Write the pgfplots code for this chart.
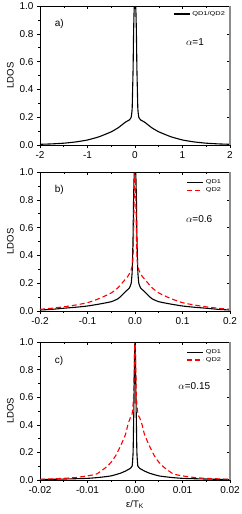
\documentclass[border=0pt]{standalone}
\usepackage{fontspec}
\setmainfont{Liberation Sans}
\newfontfamily\legfont[FakeStretch=1.35]{Liberation Sans}
\usepackage{pgfplots}
\pgfplotsset{compat=1.18}
\begin{document}
\begin{tikzpicture}
\path[use as bounding box] (0pt,0pt) rectangle (241pt,-514pt);
\pgfplotsset{
  base/.style={
    scale only axis, width=190pt, height=139pt, anchor=north west,
    ymin=0, ymax=1, ytick={0,0.2,...,1.0},
    minor x tick num=1, minor y tick num=1,
    scaled x ticks=false, scaled y ticks=false,
    tick style={line width=0.5pt, black},
    major tick length=3pt, minor tick length=1.5pt,
    /pgf/number format/assume math mode=true,
    clip=true,
  },
  main/.style={base,
    axis x line*=bottom, axis y line*=left,
    tick align=outside,
    axis line style={line width=0.6pt, black},
    yticklabel style={/pgf/number format/fixed, /pgf/number format/fixed zerofill, /pgf/number format/precision=1},
    tick label style={font=\fontsize{10}{11}\selectfont},
    ylabel={LDOS}, ylabel style={font=\fontsize{9.5}{10}\selectfont, yshift=-1pt},
    legend style={draw=none, fill=none, font=\legfont\fontsize{5.5}{6}\selectfont, row sep=-2pt,
      legend cell align=left, anchor=north east, inner sep=1pt},
    legend image code/.code={\draw[##1] (0pt,0pt) -- (16pt,0pt);},
  },
  mirror/.style={base,
    axis x line*=top, axis y line*=right,
    tick align=inside,
    xticklabels={}, yticklabels={},
    x axis line style={line width=0.6pt, black},
    y axis line style={line width=1.4pt, black!45},
  },
}
% ---------------- panel a
\begin{axis}[main, at={(40pt,-6pt)},
  xmin=-2, xmax=2, xtick={-2,-1,0,1,2},
  legend style={at={(rel axis cs:0.99,0.985)}}]
\addplot[black, line width=1.1pt, smooth, tension=0.3] coordinates {
(-2,0.005)(-1.75,0.008)(-1.5,0.013)(-1.25,0.022)(-1,0.036)(-0.75,0.06)(-0.5,0.095)(-0.35,0.125)(-0.2,0.165)(-0.12,0.18)(-0.08,0.2)(-0.06,0.26)(-0.05,0.4)(-0.04,0.55)(-0.03,0.8)(-0.02,0.95)(-0.01,1.02)
(0.01,1.02)(0.02,0.95)(0.03,0.8)(0.04,0.55)(0.05,0.4)(0.06,0.26)(0.08,0.2)(0.12,0.18)(0.2,0.165)(0.35,0.125)(0.5,0.095)(0.75,0.06)(1,0.036)(1.25,0.022)(1.5,0.013)(1.75,0.008)(2,0.005)};
\addlegendentry{QD1/QD2}
\node[anchor=west, font=\fontsize{10}{11}\selectfont] at (rel axis cs:0.06,0.87) {a)};
\node[anchor=west, font=\fontsize{10}{11}\selectfont] at (rel axis cs:0.75,0.74) {$\alpha$=1};
\end{axis}
\begin{axis}[mirror, at={(40pt,-6pt)}, xmin=-2, xmax=2, xtick={-2,-1,0,1,2}]
\end{axis}
% ---------------- panel b
\begin{axis}[main, at={(40pt,-172pt)},
  xmin=-0.2, xmax=0.2, xtick={-0.2,-0.1,0,0.1,0.2},
  xticklabel style={/pgf/number format/fixed, /pgf/number format/fixed zerofill, /pgf/number format/precision=1},
  legend style={at={(rel axis cs:0.97,0.965)}}]
\addplot[black, line width=1.1pt, smooth, tension=0.3] coordinates {
(-0.2,0.007)(-0.175,0.012)(-0.15,0.02)(-0.125,0.027)(-0.1,0.036)(-0.075,0.05)(-0.05,0.067)(-0.035,0.09)(-0.02,0.14)(-0.012,0.165)(-0.008,0.2)(-0.006,0.28)(-0.005,0.4)(-0.004,0.55)(-0.003,0.8)(-0.002,0.95)(-0.001,1.02)
(0.001,1.02)(0.002,0.95)(0.003,0.8)(0.004,0.55)(0.005,0.4)(0.006,0.28)(0.008,0.2)(0.012,0.165)(0.02,0.14)(0.035,0.09)(0.05,0.067)(0.075,0.05)(0.1,0.036)(0.125,0.027)(0.15,0.02)(0.175,0.012)(0.2,0.007)};
\addlegendentry{QD1}
\addplot[red, line width=1.1pt, dash pattern=on 5pt off 3pt, smooth, tension=0.3] coordinates {
(-0.2,0.012)(-0.175,0.02)(-0.15,0.03)(-0.125,0.043)(-0.1,0.06)(-0.075,0.09)(-0.05,0.13)(-0.035,0.17)(-0.025,0.21)(-0.015,0.25)(-0.01,0.28)(-0.006,0.32)(-0.004,0.4)(-0.003,0.55)(-0.002,0.75)(-0.001,0.95)(0,1.02)
(0.001,0.95)(0.002,0.75)(0.003,0.55)(0.004,0.4)(0.006,0.32)(0.01,0.28)(0.015,0.25)(0.025,0.21)(0.035,0.17)(0.05,0.13)(0.075,0.09)(0.1,0.06)(0.125,0.043)(0.15,0.03)(0.175,0.02)(0.2,0.012)};
\addlegendentry{QD2}
\node[anchor=west, font=\fontsize{10}{11}\selectfont] at (rel axis cs:0.06,0.87) {b)};
\node[anchor=west, font=\fontsize{10}{11}\selectfont] at (rel axis cs:0.75,0.66) {$\alpha$=0.6};
\end{axis}
\begin{axis}[mirror, at={(40pt,-172pt)}, xmin=-0.2, xmax=0.2, xtick={-0.2,-0.1,0,0.1,0.2}]
\end{axis}
% ---------------- panel c
\begin{axis}[main, at={(40pt,-342pt)}, height=138pt,
  xmin=-0.02, xmax=0.02, xtick={-0.02,-0.01,0,0.01,0.02},
  xticklabel style={/pgf/number format/fixed, /pgf/number format/fixed zerofill, /pgf/number format/precision=2},
  xlabel={ε/T\textsubscript{K}}, xlabel style={font=\fontsize{9.5}{10}\selectfont, yshift=0pt},
  legend style={at={(rel axis cs:0.97,0.965)}}]
\addplot[black, line width=1.1pt, smooth, tension=0.3] coordinates {
(-0.02,0.003)(-0.015,0.007)(-0.01,0.012)(-0.0075,0.019)(-0.005,0.03)(-0.003,0.05)(-0.002,0.065)(-0.001,0.084)(-0.0006,0.1)(-0.0004,0.2)(-0.0003,0.4)(-0.0002,0.6)(-0.0001,0.9)(0,1.02)
(0.0001,0.9)(0.0002,0.6)(0.0003,0.4)(0.0004,0.2)(0.0006,0.1)(0.001,0.084)(0.002,0.065)(0.003,0.05)(0.005,0.03)(0.0075,0.019)(0.01,0.012)(0.015,0.007)(0.02,0.003)};
\addlegendentry{QD1}
\addplot[red, line width=1.1pt, dash pattern=on 5pt off 3pt, smooth, tension=0.3] coordinates {
(-0.02,0.005)(-0.015,0.012)(-0.0125,0.018)(-0.01,0.03)(-0.008,0.045)(-0.006,0.095)(-0.005,0.13)(-0.004,0.18)(-0.003,0.25)(-0.002,0.33)(-0.0015,0.4)(-0.001,0.45)(-0.0006,0.48)(-0.0003,0.6)(-0.0001,0.9)(0,1.02)
(0.0001,0.9)(0.0003,0.6)(0.0006,0.48)(0.001,0.45)(0.0015,0.4)(0.002,0.33)(0.003,0.25)(0.004,0.18)(0.005,0.13)(0.006,0.095)(0.008,0.045)(0.01,0.03)(0.0125,0.018)(0.015,0.012)(0.02,0.005)};
\addlegendentry{QD2}
\node[anchor=west, font=\fontsize{10}{11}\selectfont] at (rel axis cs:0.06,0.86) {c)};
\node[anchor=west, font=\fontsize{10}{11}\selectfont] at (rel axis cs:0.71,0.68) {$\alpha$=0.15};
\end{axis}
\begin{axis}[mirror, at={(40pt,-342pt)}, height=138pt, xmin=-0.02, xmax=0.02, xtick={-0.02,-0.01,0,0.01,0.02}]
\end{axis}
\end{tikzpicture}
\end{document}
